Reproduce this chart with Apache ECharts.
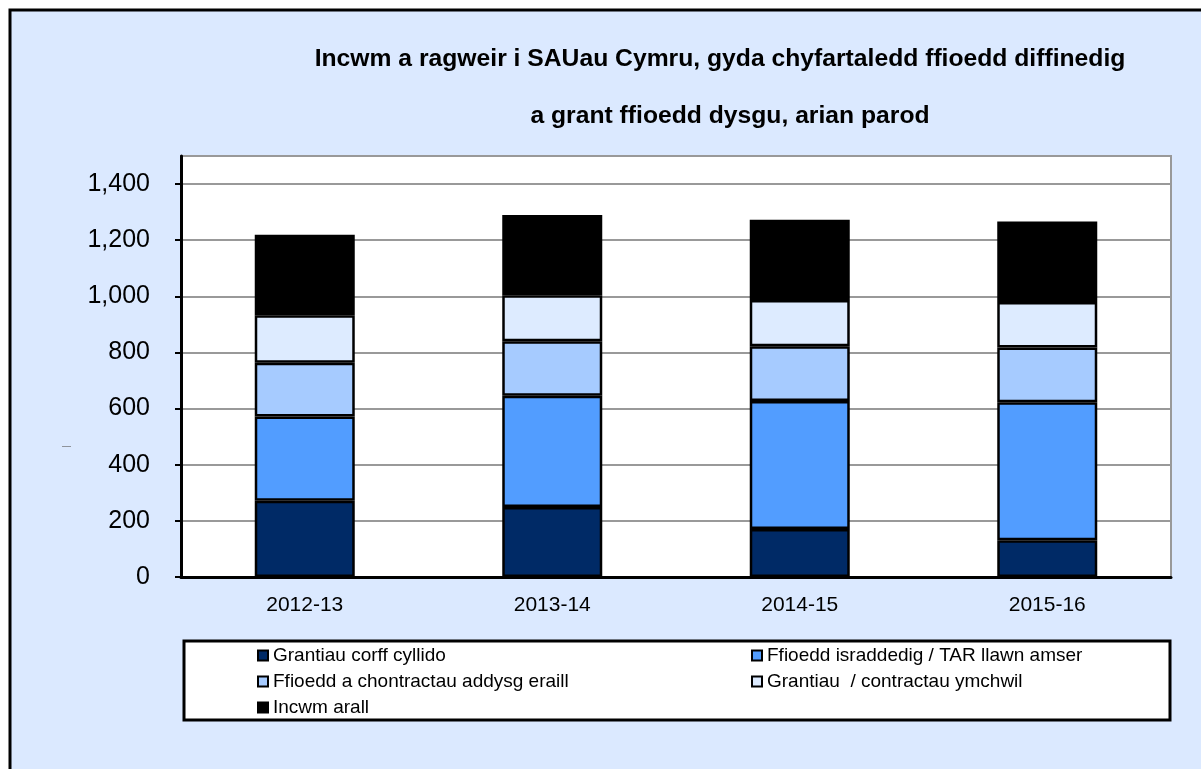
<!DOCTYPE html>
<html>
<head>
<meta charset="utf-8">
<title>Incwm a ragweir i SAUau Cymru</title>
<script src="https://cdn.jsdelivr.net/npm/echarts@6/dist/echarts.min.js"></script>
<style>
    html, body { margin: 0; padding: 0; background: #fff; }
    #main { width: 1201px; height: 769px; }
</style>
</head>
<body>
<div id="main"></div>
<script type="text/javascript">
    // data
    var years = ['2012-13', '2013-14', '2014-15', '2015-16'];
    var seriesNames = [
        'Grantiau corff cyllido',
        'Ffioedd israddedig / TAR llawn amser',
        'Ffioedd a chontractau addysg eraill',
        'Grantiau  / contractau ymchwil',
        'Incwm arall'
    ];
    var grantiauCorff = [272, 249, 171, 131];
    var ffioeddIsraddedig = [300, 397, 456, 492];
    var ffioeddEraill = [191, 194, 195, 195];
    var grantiauYmchwil = [170, 164, 165, 162];
    var incwmArall = [286, 286, 286, 287];
    var colors = ['#002a66', '#529dff', '#a6cbff', '#ddebff', '#000000'];

    var allData = [grantiauCorff, ffioeddIsraddedig, ffioeddEraill, grantiauYmchwil, incwmArall];
    var series = [];
    for (var i = 0; i < seriesNames.length; i++) {
        series.push({
            name: seriesNames[i],
            type: 'bar',
            stack: 'total',
            barWidth: 100,
            itemStyle: {
                color: colors[i],
                borderColor: '#000',
                borderWidth: 2.5
            },
            data: allData[i]
        });
    }

    var legendText = {
        fontFamily: 'Liberation Sans, Arial, sans-serif',
        fontSize: 19,
        color: '#000'
    };
    var titleText = {
        fontSize: 24.7,
        fontWeight: 'bold',
        color: '#000'
    };

    var chart = echarts.init(document.getElementById('main'));
    chart.setOption({
        animation: false,
        backgroundColor: '#fff',
        textStyle: { fontFamily: 'Liberation Sans, Arial, sans-serif' },
        title: [{
            text: 'Incwm a ragweir i SAUau Cymru, gyda chyfartaledd ffioedd diffinedig',
            left: 720,
            top: 47,
            textAlign: 'center',
            padding: 0,
            textStyle: titleText
        }, {
            text: 'a grant ffioedd dysgu, arian parod',
            left: 730,
            top: 104,
            textAlign: 'center',
            padding: 0,
            textStyle: titleText
        }],
        graphic: [{
            type: 'rect',
            z: -10,
            shape: { x: 10, y: 10, width: 1200, height: 770 },
            style: { fill: '#dbe9ff', stroke: '#000', lineWidth: 3 }
        }, {
            type: 'rect',
            z: -5,
            shape: { x: 184, y: 641, width: 986, height: 79 },
            style: { fill: '#fff', stroke: '#000', lineWidth: 3 }
        }, {
            // the tiny y-axis title mark
            type: 'text',
            left: 62,
            top: 442,
            style: { text: '—', fontSize: 9, fill: '#666' }
        }],
        legend: [{
            left: 252,
            top: 641,
            orient: 'vertical',
            itemGap: 7,
            itemWidth: 10,
            itemHeight: 10,
            icon: 'rect',
            textStyle: legendText,
            data: [seriesNames[0], seriesNames[2], seriesNames[4]]
        }, {
            left: 746,
            top: 641,
            orient: 'vertical',
            itemGap: 7,
            itemWidth: 10,
            itemHeight: 10,
            icon: 'rect',
            textStyle: legendText,
            data: [seriesNames[1], seriesNames[3]]
        }],
        grid: {
            left: 181,
            top: 156,
            right: 30,
            bottom: 192,
            show: true,
            backgroundColor: '#fff',
            borderColor: '#999',
            borderWidth: 2
        },
        xAxis: {
            type: 'category',
            data: years,
            axisLine: { lineStyle: { color: '#000', width: 3 } },
            axisTick: { length: 6, lineStyle: { color: '#000', width: 2 } },
            axisLabel: { fontSize: 21, color: '#000', margin: 18 }
        },
        yAxis: {
            type: 'value',
            min: 0,
            max: 1500,
            interval: 200,
            axisLine: { show: true, lineStyle: { color: '#000', width: 3 } },
            axisTick: { show: true, length: 6, lineStyle: { color: '#000', width: 2 } },
            axisLabel: {
                fontSize: 25,
                color: '#000',
                margin: 31,
                showMaxLabel: false,
                formatter: function (v) {
                    return v.toLocaleString('en-US');
                }
            },
            splitLine: { lineStyle: { color: '#999', width: 2 } }
        },
        series: series
    });
</script>
</body>
</html>
